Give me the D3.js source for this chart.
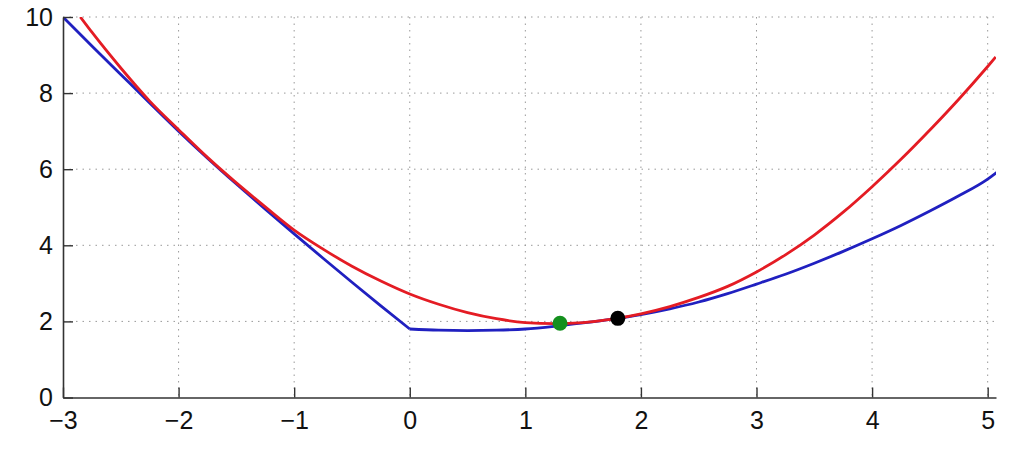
<!DOCTYPE html>
<html>
<head>
<meta charset="utf-8">
<title>curves</title>
<script src="https://d3js.org/d3.v7.min.js"></script>
<style>
  body { margin: 0; background: #fff; }
  .chart text { font-family: "Liberation Sans", Arial, sans-serif; font-size: 25px; fill: #111; }
</style>
</head>
<body>
<svg class="chart"></svg>
<script>
// values
var xBlue = [-3, -2.75, -2.5, -2.25, -2, -1.75, -1.5, -1.25, -1, -0.75, -0.5, -0.25, 0,
             0.25, 0.5, 0.75, 1, 1.25, 1.5, 1.75, 2, 2.25, 2.5, 2.75, 3, 3.25, 3.5, 3.75,
             4, 4.25, 4.5, 4.75, 5, 5.08];
var yBlue = [10, 9.24, 8.49, 7.74, 7.0, 6.29, 5.61, 4.95, 4.30, 3.66, 3.03, 2.41, 1.80,
             1.77, 1.76, 1.77, 1.80, 1.87, 1.96, 2.06, 2.18, 2.33, 2.51, 2.73, 2.98, 3.24, 3.53, 3.84,
             4.17, 4.52, 4.90, 5.30, 5.74, 5.92];

var xRed = [-2.85, -2.75, -2.5, -2.25, -2, -1.75, -1.5, -1.25, -1, -0.75, -0.5, -0.25, 0,
            0.25, 0.5, 0.75, 1, 1.25, 1.5, 1.75, 2, 2.25, 2.5, 2.75, 3, 3.25, 3.5, 3.75,
            4, 4.25, 4.5, 4.75, 5, 5.07];
var yRed = [10, 9.60, 8.66, 7.79, 7.04, 6.31, 5.64, 5.01, 4.40, 3.90, 3.45, 3.06, 2.72,
            2.45, 2.23, 2.07, 1.97, 1.94, 1.97, 2.06, 2.20, 2.39, 2.63, 2.92, 3.30, 3.75, 4.27, 4.87,
            5.54, 6.26, 7.03, 7.84, 8.70, 8.95];

var dotX = [1.3, 1.8];
var dotY = [1.95, 2.08];
var dotColor = ["#14901e", "#000000"];

var xTicks = [-3, -2, -1, 0, 1, 2, 3, 4, 5];
var yTicks = [0, 2, 4, 6, 8, 10];

var svgWidth = 1022, svgHeight = 459;
var margin = {top: 17, right: 26, bottom: 61.5, left: 63};
var width = svgWidth - margin.left - margin.right;
var height = svgHeight - margin.top - margin.bottom;

var svg = d3.select(".chart")
    .attr("width", svgWidth)
    .attr("height", svgHeight);

var chart = svg.append("g")
    .attr("transform", "translate(" + margin.left + "," + margin.top + ")");

var xScale = d3.scaleLinear().domain([-3, 5.072]).range([0, width]);
var yScale = d3.scaleLinear().domain([0, 10]).range([height, 0]);

svg.append("defs").append("clipPath").attr("id", "plot")
    .append("rect").attr("x", 0).attr("y", 0).attr("width", width).attr("height", height);

// dotted grid
chart.append("g").selectAll("line")
    .data(xTicks.filter(d => d !== -3)).enter().append("line")
    .attr("x1", d => xScale(d)).attr("x2", d => xScale(d))
    .attr("y1", 0).attr("y2", height)
    .attr("stroke", "#999").attr("stroke-width", 1)
    .attr("stroke-dasharray", "1.5,5");

chart.append("g").selectAll("line")
    .data(yTicks.filter(d => d !== 0)).enter().append("line")
    .attr("x1", 0).attr("x2", width)
    .attr("y1", d => yScale(d)).attr("y2", d => yScale(d))
    .attr("stroke", "#999").attr("stroke-width", 1)
    .attr("stroke-dasharray", "1.5,5");

// curves
var blue = xBlue.map((x, i) => [x, yBlue[i]]);
var red = xRed.map((x, i) => [x, yRed[i]]);

var line = d3.line()
    .x(d => xScale(d[0]))
    .y(d => yScale(d[1]))
    .curve(d3.curveMonotoneX);

var curves = chart.append("g").attr("clip-path", "url(#plot)");

// blue has a corner at x = 0, so it is drawn in two pieces
curves.append("path")
    .datum(blue.filter(d => d[0] <= 0))
    .attr("d", line)
    .attr("fill", "none").attr("stroke", "#2020c0").attr("stroke-width", 2.8);

curves.append("path")
    .datum(blue.filter(d => d[0] >= 0))
    .attr("d", line)
    .attr("fill", "none").attr("stroke", "#2020c0").attr("stroke-width", 2.8);

curves.append("path")
    .datum(red)
    .attr("d", line)
    .attr("fill", "none").attr("stroke", "#e41c24").attr("stroke-width", 2.8);

chart.append("g").selectAll("circle")
    .data(dotX).enter().append("circle")
    .attr("cx", d => xScale(d))
    .attr("cy", (d, i) => yScale(dotY[i]))
    .attr("r", 7.5)
    .attr("fill", (d, i) => dotColor[i]);

// axes, ticks pointing inward
var xAxis = d3.axisBottom(xScale).tickValues(xTicks)
    .tickSizeInner(-10).tickSizeOuter(0).tickPadding(14);
var yAxis = d3.axisLeft(yScale).tickValues(yTicks)
    .tickSizeInner(-10).tickSizeOuter(0).tickPadding(10);

var gx = chart.append("g")
    .attr("transform", "translate(0," + height + ")")
    .call(xAxis);
var gy = chart.append("g").call(yAxis);

[gx, gy].forEach(function (g) {
    g.attr("font-size", null).attr("font-family", null);
    g.select(".domain").attr("stroke", "#333").attr("stroke-width", 1.6);
    g.selectAll(".tick line").attr("stroke", "#333").attr("stroke-width", 1.4);
});
</script>
</body>
</html>
